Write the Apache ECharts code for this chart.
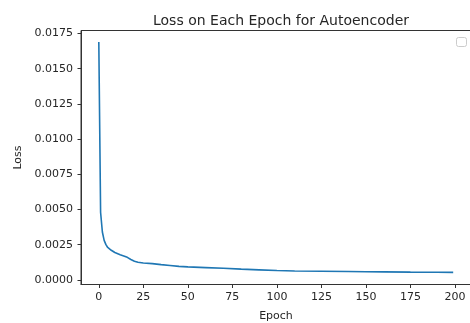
<!DOCTYPE html>
<html>
<head>
<meta charset="utf-8">
<script src="https://cdn.jsdelivr.net/npm/echarts@6/dist/echarts.min.js"></script>
<style>
  html, body { margin: 0; padding: 0; background: #fff; }
  #chart { width: 470px; height: 323px; }
</style>
</head>
<body>
<div id="chart"></div>
<script>
// epochs (denser where it drops fast)
const epochs = [0, 1, 2, 3, 4, 5, 6, 7, 8, 9, 10, 12, 14, 16, 18, 20, 22, 25, 30, 35, 40, 45, 50,
  60, 70, 80, 90, 100, 110, 125, 140, 150, 160, 175, 190, 199];
const loss = [0.0169, 0.0048, 0.0034, 0.0028, 0.0025, 0.0023, 0.0022, 0.0021, 0.0020, 0.00194, 0.00188,
  0.00178, 0.0017, 0.0016, 0.00145, 0.00132, 0.00125, 0.0012, 0.00115, 0.00108, 0.00102, 0.00096, 0.00092,
  0.00087, 0.00082, 0.00076, 0.00071, 0.00066, 0.00063, 0.00061, 0.00059, 0.00058, 0.00057, 0.00055, 0.00054, 0.00053];

const xTicks = [0, 25, 50, 75, 100, 125, 150, 175, 200];
const yTicks = [0, 0.0025, 0.005, 0.0075, 0.01, 0.0125, 0.015, 0.0175];

const font = 'DejaVu Sans';
const textColor = '#262626';
const spineColor = '#333';

const chart = echarts.init(document.getElementById('chart'), null, { renderer: 'canvas' });

chart.setOption({
  animation: false,
  title: {
    text: 'Loss on Each Epoch for Autoencoder',
    left: 276,
    top: 9,
    textAlign: 'center',
    textStyle: { fontFamily: font, fontSize: 14, fontWeight: 'normal', color: textColor },
  },
  grid: {
    left: 81,
    top: 30.5,
    right: -1,
    bottom: 38.5,
    outerBoundsMode: 'none',
    containLabel: false,
    show: true,
    borderColor: spineColor,
    borderWidth: 1,
  },
  xAxis: {
    type: 'value',
    min: -10,
    max: 209,
    name: 'Epoch',
    nameLocation: 'middle',
    nameGap: 26,
    nameTextStyle: { fontFamily: font, fontSize: 11, color: textColor },
    axisLine: { show: true, onZero: false, lineStyle: { color: spineColor, width: 1 } },
    axisTick: { show: true, length: 3.5, customValues: xTicks, lineStyle: { color: spineColor } },
    axisLabel: {
      customValues: xTicks,
      margin: 7,
      fontFamily: font,
      fontSize: 11,
      color: textColor,
    },
    splitLine: { show: false },
  },
  yAxis: {
    type: 'value',
    min: -0.00033,
    max: 0.01771,
    name: 'Loss',
    nameLocation: 'middle',
    nameGap: 55,
    nameTextStyle: { fontFamily: font, fontSize: 11, color: textColor },
    axisLine: { show: true, onZero: false, lineStyle: { color: spineColor, width: 1 } },
    axisTick: { show: true, length: 3.5, customValues: yTicks, lineStyle: { color: spineColor } },
    axisLabel: {
      customValues: yTicks,
      margin: 8,
      fontFamily: font,
      fontSize: 11,
      color: textColor,
      formatter: (v) => v.toFixed(4),
    },
    splitLine: { show: false },
  },
  graphic: [{
    type: 'rect',
    left: 456,
    top: 37,
    shape: { width: 10, height: 9, r: 2 },
    style: { fill: '#fff', stroke: '#cccccc', lineWidth: 1 },
  }],
  series: [{
    type: 'line',
    data: epochs.map((e, i) => [e, loss[i]]),
    showSymbol: false,
    smooth: false,
    lineStyle: { color: '#1f77b4', width: 1.6 },
  }],
});
</script>
</body>
</html>
